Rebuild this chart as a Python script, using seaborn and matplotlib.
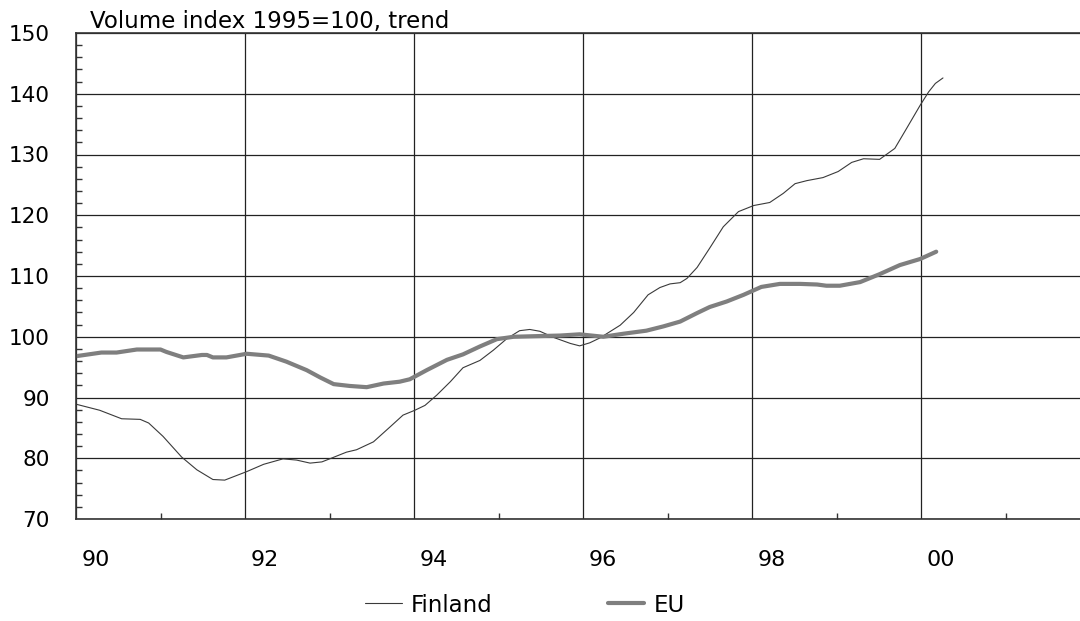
import matplotlib
matplotlib.use("Agg")
import matplotlib.pyplot as plt
from matplotlib.ticker import MultipleLocator, FixedLocator
from matplotlib.transforms import ScaledTranslation
import pandas as pd
import seaborn as sns

# Finland, volume index 1995=100 (trend)
finland_year = [
    1990.00, 1990.28, 1990.54, 1990.76, 1990.86, 1991.03, 1991.25, 1991.43,
    1991.62, 1991.76, 1992.02, 1992.22, 1992.45, 1992.61, 1992.77, 1992.91,
    1993.02, 1993.20, 1993.32, 1993.52, 1993.72, 1993.87, 1994.01, 1994.13,
    1994.27, 1994.43, 1994.58, 1994.78, 1994.94, 1995.10, 1995.25, 1995.37,
    1995.49, 1995.65, 1995.85, 1995.96, 1996.08, 1996.20, 1996.44, 1996.60,
    1996.77, 1996.91, 1997.03, 1997.15, 1997.23, 1997.35, 1997.50, 1997.66,
    1997.84, 1998.02, 1998.21, 1998.37, 1998.51, 1998.65, 1998.84, 1999.02,
    1999.18, 1999.32, 1999.51, 1999.69, 1999.83, 1999.99, 2000.09, 2000.17,
    2000.26,
]
finland_index = [
    88.9, 87.9, 86.5, 86.4, 85.8, 83.6, 80.2, 78.1,
    76.5, 76.4, 77.8, 79.0, 79.9, 79.7, 79.2, 79.4,
    80.0, 81.0, 81.4, 82.7, 85.2, 87.1, 87.9, 88.7,
    90.4, 92.6, 94.9, 96.1, 97.8, 99.7, 101.0, 101.2,
    100.9, 99.9, 98.9, 98.5, 99.0, 99.8, 101.9, 104.0,
    106.9, 108.1, 108.7, 108.9, 109.6, 111.4, 114.6, 118.1,
    120.6, 121.6, 122.1, 123.6, 125.2, 125.7, 126.2, 127.2,
    128.7, 129.3, 129.2, 131.0, 134.3, 138.1, 140.3, 141.7,
    142.6,
]

# EU
eu_year = [
    1990.00, 1990.30, 1990.48, 1990.72, 1991.00, 1991.07, 1991.27, 1991.49,
    1991.55, 1991.62, 1991.78, 1992.02, 1992.28, 1992.49, 1992.73, 1992.89,
    1993.05, 1993.24, 1993.44, 1993.64, 1993.83, 1993.95, 1994.15, 1994.39,
    1994.58, 1994.78, 1994.98, 1995.18, 1995.45, 1995.73, 1995.96, 1996.24,
    1996.48, 1996.75, 1996.95, 1997.15, 1997.35, 1997.50, 1997.70, 1997.90,
    1998.11, 1998.33, 1998.57, 1998.77, 1998.88, 1999.04, 1999.28, 1999.51,
    1999.75, 1999.99, 2000.18,
]
eu_index = [
    96.8, 97.4, 97.4, 97.9, 97.9, 97.5, 96.6, 97.0,
    97.0, 96.6, 96.6, 97.2, 96.9, 95.9, 94.5, 93.3,
    92.2, 91.9, 91.7, 92.3, 92.6, 93.0, 94.5, 96.2,
    97.1, 98.4, 99.6, 100.0, 100.1, 100.2, 100.4, 100.0,
    100.5, 101.0, 101.7, 102.5, 103.9, 104.9, 105.8, 106.9,
    108.2, 108.7, 108.7, 108.6, 108.4, 108.4, 109.0, 110.3,
    111.8, 112.8, 114.0,
]

x_ticks = [1990, 1992, 1994, 1996, 1998, 2000]
x_tick_labels = ["90", "92", "94", "96", "98", "00"]
y_ticks = [70, 80, 90, 100, 110, 120, 130, 140, 150]

finland = pd.DataFrame({"year": finland_year, "index": finland_index})
eu = pd.DataFrame({"year": eu_year, "index": eu_index})

sns.set_theme(style="white")
plt.rcParams["font.family"] = ["DejaVu Sans"]
plt.rcParams["text.color"] = "black"

fig = plt.figure(figsize=(10.8, 6.21), dpi=100)
ax = fig.add_axes([76 / 1080, 1 - 519 / 621, 1004 / 1080, 486 / 621])

sns.lineplot(data=finland, x="year", y="index", color="#3a3a3a",
             linewidth=0.8, label="Finland", ax=ax)
sns.lineplot(data=eu, x="year", y="index", color="#7f7f7f",
             linewidth=3.0, label="EU", ax=ax)

ax.set_xlim(1990, 1990 + 1004 / 84.5)
ax.set_ylim(70, 150)

ax.set_xticks(x_ticks)
ax.set_xticklabels(x_tick_labels)
ax.set_yticks(y_ticks)
ax.xaxis.set_minor_locator(FixedLocator([1991, 1993, 1995, 1997, 1999, 2001]))
ax.yaxis.set_minor_locator(MultipleLocator(2))

ax.grid(True, which="major", color="#222222", linewidth=0.9)
ax.set_axisbelow(True)

ax.tick_params(axis="x", which="major", length=0, pad=22, labelsize=16,
               colors="black")
ax.tick_params(axis="y", which="major", length=0, pad=19, labelsize=15.5,
               colors="black")
ax.tick_params(axis="both", which="minor", direction="in", length=4.5,
               width=1.0, color="#333333")
ax.tick_params(axis="x", which="minor", bottom=True)
ax.tick_params(axis="y", which="minor", left=True)

# year labels sit just right of their grid line
offset = ScaledTranslation(4 / 72, 0, fig.dpi_scale_trans)
for lab in ax.get_xticklabels():
    lab.set_horizontalalignment("left")
    lab.set_transform(lab.get_transform() + offset)

for side in ["left", "bottom", "top"]:
    ax.spines[side].set_color("#333333")
    ax.spines[side].set_linewidth(1.2)
ax.spines["right"].set_visible(False)

ax.set_xlabel("")
ax.set_ylabel("")

fig.text(90 / 1080, 1 - 28 / 621, "Volume index 1995=100, trend",
         fontsize=16.5, color="black", ha="left", va="baseline")

ax.legend_.remove()
handles, labels = ax.get_legend_handles_labels()
fig.legend(handles, labels, loc="center", bbox_to_anchor=(525 / 1080, 1 - 605 / 621),
           ncol=2, frameon=False, fontsize=16.5, handlelength=1.6,
           handletextpad=0.4, columnspacing=5.0, labelcolor="black")

fig.savefig("out.png", dpi=100)
plt.close(fig)
